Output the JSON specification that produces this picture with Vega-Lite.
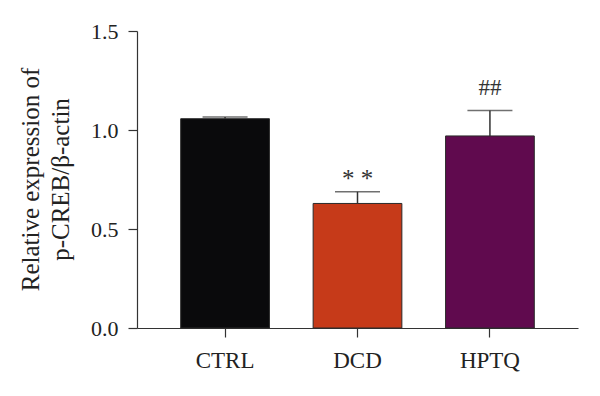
{
  "$schema": "https://vega.github.io/schema/vega-lite/v6.json",
  "width": 441,
  "height": 297,
  "autosize": {"type": "none"},
  "padding": {"left": 137, "top": 31, "right": 22, "bottom": 68},
  "background": "white",
  "config": {"view": {"stroke": null}, "font": "Liberation Serif"},
  "data": {
    "values": [
      {"group": "CTRL", "mean": 1.057, "upper": 1.066, "sig": ""},
      {"group": "DCD", "mean": 0.629, "upper": 0.688, "sig": "* *"},
      {"group": "HPTQ", "mean": 0.970, "upper": 1.099, "sig": "##"}
    ]
  },
  "encoding": {
    "x": {
      "field": "group",
      "type": "nominal",
      "sort": null,
      "scale": {"paddingInner": 0.33, "paddingOuter": 0.33},
      "axis": {
        "title": null,
        "labelAngle": 0,
        "labelFontSize": 23,
        "labelColor": "#222",
        "labelPadding": 12,
        "tickSize": 9,
        "tickColor": "#333",
        "domainColor": "#333",
        "tickWidth": 1.2,
        "domainWidth": 1.2
      }
    }
  },
  "layer": [
    {
      "mark": {"type": "bar", "stroke": "#2a2a2a", "strokeWidth": 1},
      "encoding": {
        "y": {
          "field": "mean",
          "type": "quantitative",
          "scale": {"domain": [0, 1.5], "nice": false},
          "axis": {
            "values": [0, 0.5, 1, 1.5],
            "format": ".1f",
            "grid": false,
            "labelFontSize": 22,
            "labelColor": "#222",
            "labelPadding": 10,
            "tickSize": 9,
            "tickColor": "#333",
            "domainColor": "#333",
            "tickWidth": 1.2,
            "domainWidth": 1.2,
            "title": ["Relative expression of", "p-CREB/β-actin"],
            "titleFontSize": 25,
            "titleFontWeight": "normal",
            "titleColor": "#222",
            "titleAngle": -90,
            "titleAlign": "center",
            "titleBaseline": "alphabetic",
            "titleLineHeight": 30,
            "titleX": -99,
            "titleY": 148
          }
        },
        "color": {
          "field": "group",
          "type": "nominal",
          "scale": {"domain": ["CTRL", "DCD", "HPTQ"], "range": ["#0a0a0c", "#c63a19", "#600a4e"]},
          "legend": null
        }
      }
    },
    {
      "mark": {"type": "rule", "color": "#333", "strokeWidth": 1.5},
      "encoding": {
        "y": {"field": "mean", "type": "quantitative"},
        "y2": {"field": "upper"}
      }
    },
    {
      "mark": {"type": "tick", "color": "#333", "thickness": 1.5, "size": 45},
      "encoding": {
        "y": {"field": "upper", "type": "quantitative"}
      }
    },
    {
      "transform": [{"filter": "datum.sig == '* *'"}],
      "mark": {"type": "text", "fontSize": 25, "color": "#333", "baseline": "alphabetic", "dy": -5},
      "encoding": {
        "y": {"field": "upper", "type": "quantitative"},
        "text": {"field": "sig"}
      }
    },
    {
      "transform": [{"filter": "datum.sig == '##'"}],
      "mark": {"type": "text", "fontSize": 23, "color": "#333", "baseline": "alphabetic", "dy": -15},
      "encoding": {
        "y": {"field": "upper", "type": "quantitative"},
        "text": {"field": "sig"}
      }
    }
  ]
}
